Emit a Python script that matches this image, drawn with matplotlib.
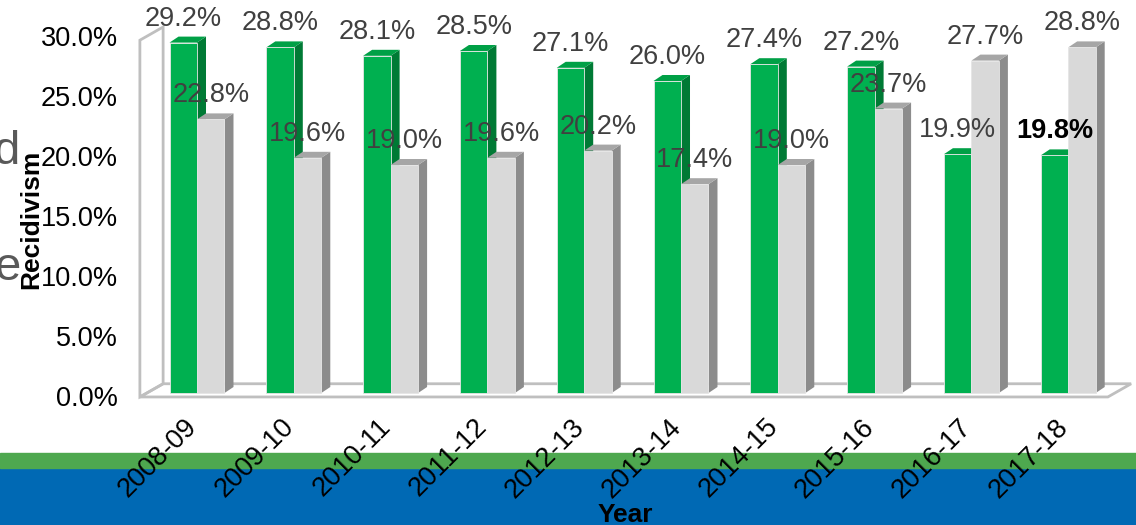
import matplotlib
matplotlib.use("Agg")
import matplotlib.pyplot as plt
from matplotlib.patches import Polygon, Rectangle

plt.rcParams['font.family'] = ['Liberation Sans', 'DejaVu Sans']

# ---- data ----
years = ["2008-09", "2009-10", "2010-11", "2011-12", "2012-13",
         "2013-14", "2014-15", "2015-16", "2016-17", "2017-18"]
green_vals = [29.2, 28.8, 28.1, 28.5, 27.1, 26.0, 27.4, 27.2, 19.9, 19.8]
gray_vals = [22.8, 19.6, 19.0, 19.6, 20.2, 17.4, 19.0, 23.7, 27.7, 28.8]
yticks = [0, 5, 10, 15, 20, 25, 30]
ytick_labels = ["0.0%", "5.0%", "10.0%", "15.0%", "20.0%", "25.0%", "30.0%"]
x_title = "Year"
y_title = "Recidivism"

# ---- styles ----
W, H = 1136, 525
GREEN_FRONT = "#00B050"
GREEN_TOP = "#00A046"
GREEN_SIDE = "#007A35"
GRAY_FRONT = "#D9D9D9"
GRAY_TOP = "#A6A6A6"
GRAY_SIDE = "#8C8C8C"
FRAME = "#BFBFBF"
LABEL = "#404040"
FS = 19.5

bw = 0.284      # bar width (category units)
ddx = 0.093     # depth offset x
ddy = 0.5       # depth offset y (% units)
fdx = 0.24      # frame depth x
fdy = 1.1       # frame depth y

fig = plt.figure(figsize=(W / 100, H / 100), dpi=100)
ax = fig.add_axes([0, 0, 1, 1])
ax.set_xlim(-197 / 96.8, (W - 197) / 96.8)
ax.set_ylim(-(H - 393) / 12.0, 393 / 12.0)
ax.axis("off")
ax.patch.set_visible(False)

# background bands of slide
ax.add_patch(Rectangle((0, 0), 1, 57 / H, transform=fig.transFigure,
                       color="#0069B4", zorder=0))
ax.add_patch(Rectangle((0, 57 / H), 1, 15 / H, transform=fig.transFigure,
                       color="#4EA84F", zorder=0))

n = len(years)
ymax = yticks[-1]
xl = -0.59
xr = n - 1 + 0.41
y0 = -0.33

# frame: floor and left wall
floor = Polygon([(xl, y0), (xr, y0), (xr + fdx, y0 + fdy), (xl + fdx, y0 + fdy)],
                closed=True, facecolor="white", edgecolor=FRAME, lw=2, zorder=1)
ax.add_patch(floor)
wall = Polygon([(xl, y0), (xl, ymax - 0.6), (xl + fdx, ymax - 0.6 + fdy), (xl + fdx, y0 + fdy)],
               closed=True, facecolor="none", edgecolor=FRAME, lw=2, zorder=1)
ax.add_patch(wall)


def bar3d(x, v, front, top, side, z):
    ax.add_patch(Polygon([(x + bw, 0), (x + bw + ddx, ddy), (x + bw + ddx, v + ddy), (x + bw, v)],
                         closed=True, facecolor=side, edgecolor="none", zorder=z))
    ax.add_patch(Polygon([(x, v), (x + bw, v), (x + bw + ddx, v + ddy), (x + ddx, v + ddy)],
                         closed=True, facecolor=top, edgecolor="none", zorder=z))
    ax.add_patch(Rectangle((x, 0), bw, v, facecolor=front, edgecolor="#E6E6E6",
                           lw=0.6, zorder=z + 0.1))


for i in range(n):
    bar3d(i - bw, green_vals[i], GREEN_FRONT, GREEN_TOP, GREEN_SIDE, 2)
    bar3d(i, gray_vals[i], GRAY_FRONT, GRAY_TOP, GRAY_SIDE, 3)

for i in range(n):
    last = (i == n - 1)
    ax.text(i - bw / 2, green_vals[i] + 2.0, f"{green_vals[i]:.1f}%",
            ha="center", va="center", fontsize=FS,
            color="black" if last else LABEL,
            fontweight="bold" if last else "normal", zorder=6)
    ax.text(i + bw / 2, gray_vals[i] + 2.0, f"{gray_vals[i]:.1f}%",
            ha="center", va="center", fontsize=FS, color=LABEL, zorder=6)
    ax.text(i - 0.04, -2.5, years[i], rotation=45, rotation_mode="anchor",
            ha="right", va="center", fontsize=FS, color="black", zorder=6)

for t, lab in zip(yticks, ytick_labels):
    ax.text(-0.816, t - 0.5, lab, ha="right", va="center", fontsize=FS, color="black")

# slide text fragments partially hidden at the left edge
fig.text(-6 / W, 1 - 152 / H, "d", ha="left", va="center", fontsize=34, color="#595959")
fig.text(-5 / W, 1 - 268 / H, "e", ha="left", va="center", fontsize=34, color="#595959")

fig.text(31 / W, 1 - 219 / H, y_title, rotation=90, ha="center", va="center",
         fontsize=19, fontweight="bold", color="black")
fig.text(625 / W, 1 - 515 / H, x_title, ha="center", va="center",
         fontsize=19, fontweight="bold", color="black")

fig.savefig("out.png", dpi=100)
